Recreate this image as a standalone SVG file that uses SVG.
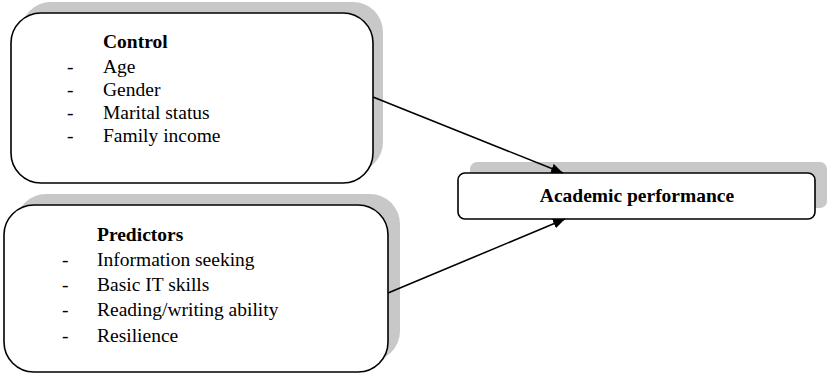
<svg xmlns="http://www.w3.org/2000/svg" width="829" height="375" viewBox="0 0 829 375">
<style>
.shadow{fill:#c8c8c8;stroke:none}
.box{fill:#fff;stroke:#000;stroke-width:1.6}
text{font-family:"Liberation Serif","Times New Roman",serif;font-size:19.5px;fill:#000}
.b{font-weight:bold}
.edge{stroke:#000;stroke-width:1.6;fill:none}
</style>
<defs>
<marker id="ah" viewBox="0 0 12 10" refX="12" refY="5" markerWidth="12" markerHeight="10" markerUnits="userSpaceOnUse" orient="auto">
<path d="M0,0 L12,5 L0,10 Z" fill="#000"/>
</marker>
</defs>
<rect width="829" height="375" fill="#fff"/>
<g id="control">
<rect class="shadow" x="21" y="2" width="362" height="170" rx="30"/>
<rect class="box" x="11" y="13" width="362" height="170" rx="30"/>
<text class="b" x="103" y="48">Control</text>
<text x="67" y="73">-</text><text x="103" y="73">Age</text>
<text x="67" y="96">-</text><text x="103" y="96">Gender</text>
<text x="67" y="119">-</text><text x="103" y="119">Marital status</text>
<text x="67" y="142">-</text><text x="103" y="142">Family income</text>
</g>
<g id="predictors">
<rect class="shadow" x="16" y="194" width="384" height="167" rx="30"/>
<rect class="box" x="4" y="205" width="384" height="167" rx="30"/>
<text class="b" x="97" y="241">Predictors</text>
<text x="62" y="266">-</text><text x="97" y="266">Information seeking</text>
<text x="62" y="291">-</text><text x="97" y="291">Basic IT skills</text>
<text x="62" y="316">-</text><text x="97" y="316">Reading/writing ability</text>
<text x="62" y="342">-</text><text x="97" y="342">Resilience</text>
</g>
<g id="academic">
<rect class="shadow" x="470" y="162" width="357" height="46" rx="7"/>
<rect class="box" x="458" y="173" width="357" height="46" rx="7"/>
<text class="b" x="637" y="202" text-anchor="middle">Academic performance</text>
</g>
<g id="connectors">
<line class="edge" x1="373" y1="97" x2="563" y2="173" marker-end="url(#ah)"/>
<line class="edge" x1="388" y1="293" x2="565" y2="219" marker-end="url(#ah)"/>
</g>
</svg>
